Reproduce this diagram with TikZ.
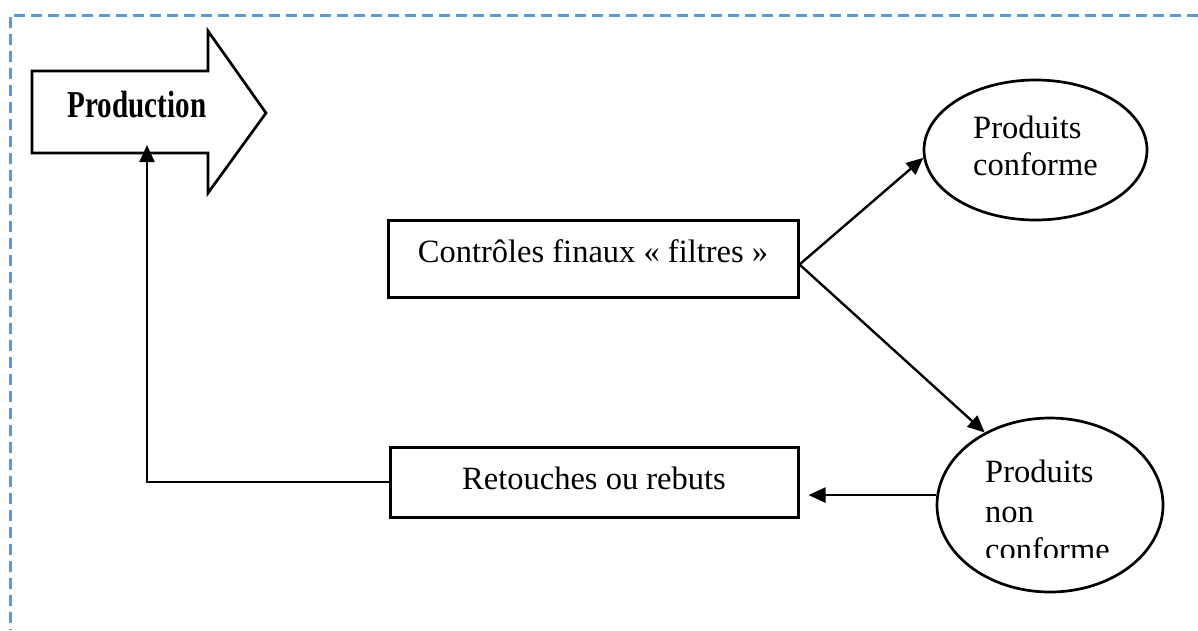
\documentclass[tikz,border=0pt]{standalone}
\usepackage{fontspec}
\setmainfont{Liberation Serif}
\usetikzlibrary{arrows.meta,shapes.geometric,calc}
\definecolor{framecol}{HTML}{5B9BD5}
\tikzset{
  frameline/.style={draw=framecol,line width=3pt,dash pattern=on 11pt off 6pt},
  shapeline/.style={draw=black,line width=2.7pt},
  box/.style={draw=black,line width=3pt,rectangle,inner sep=0pt},
  oval/.style={shapeline,ellipse,inner sep=0pt},
  txt/.style={inner sep=0pt,font=\fontsize{32.5}{38}\selectfont},
  conn/.style={draw=black,line width=2.4pt,-{Triangle[length=17pt,width=15pt]}}
}
\begin{document}
\begin{tikzpicture}[x=1pt,y=-1pt]
\useasboundingbox (0,0) rectangle (1198,630);

% dashed frame
\draw[frameline] (1198,15) -- (10,15) -- (10,630);

% block arrow "Production"
\draw[shapeline,line join=miter] (32,71) -- (208,71) -- (208,31) -- (266,113)
  -- (208,193) -- (208,153) -- (32,153) -- cycle;
\node[inner sep=0pt,anchor=base,font=\bfseries\fontsize{38}{38}\selectfont]
  (prod) at (137,117) {\scalebox{0.765}[1]{Production}};
\coordinate (pin) at (147,145);

% boxes
\node[box,minimum width=410pt,minimum height=77pt] (ctrl) at (593,258.5) {};
\node[txt,anchor=base] (ctrltxt) at (593,262) {Contrôles finaux « filtres »};
\node[box,minimum width=408pt,minimum height=70pt] (ret) at (594,482) {};
\node[txt,anchor=base] (rettxt) at (594,489) {Retouches ou rebuts};

% ellipses
\node[oval,minimum width=223pt,minimum height=140pt] (ok) at (1035.5,150) {};
\node[txt,anchor=base west] (ok1) at (973,138) {Produits};
\node[txt,anchor=base west] (ok2) at (973,175) {conforme};

\node[oval,minimum width=226pt,minimum height=174pt] (nok) at (1050,505) {};
\begin{scope}
  \clip (900,400) rectangle (1198,557);
  \node[txt,anchor=base west] (nok1) at (985,482) {Produits};
  \node[txt,anchor=base west] (nok2) at (985,522) {non};
  \node[txt,anchor=base west] (nok3) at (985,560) {conforme};
\end{scope}

% connectors
\coordinate (split) at ($(ctrl.east)+(0,6)$);
\draw[conn] (split) -- (ok.184);
\draw[conn] (split) -- (nok.132);
\draw[conn,shorten >=9pt] (nok.175) -- (nok.175 -| ret.east);
\draw[conn] (ret.west) -- (ret.west -| pin) -- (pin);
\end{tikzpicture}
\end{document}
